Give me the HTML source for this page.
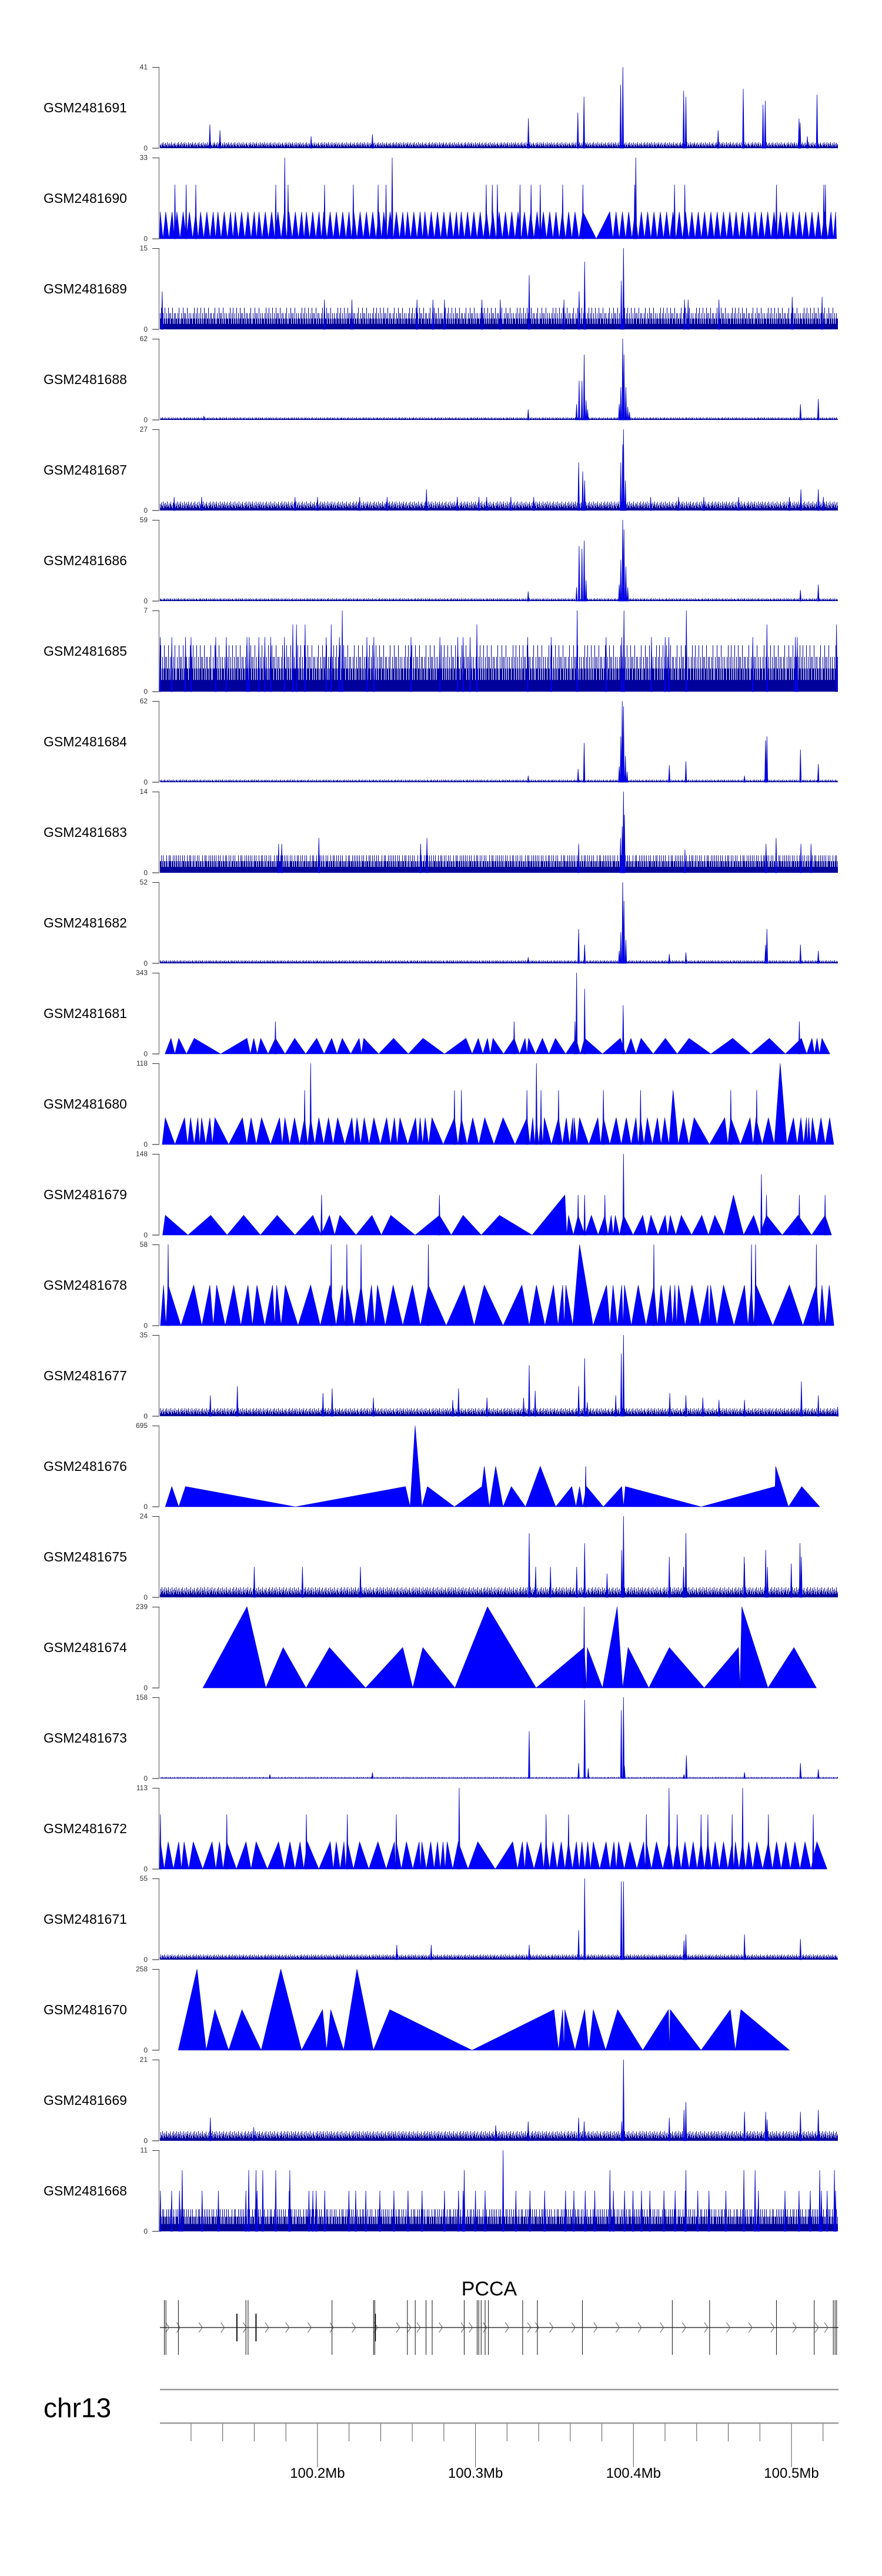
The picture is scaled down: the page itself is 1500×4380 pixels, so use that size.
<!DOCTYPE html>
<html><head><meta charset="utf-8"><title>GSM coverage tracks - PCCA chr13</title>
<style>
html,body{margin:0;padding:0;background:#fff;}
svg{display:block;font-family:"Liberation Sans",Arial,sans-serif;}
</style></head>
<body>
<svg id="chart" width="1500" height="4380" viewBox="0 0 1500 4380" xmlns="http://www.w3.org/2000/svg">
<rect x="0" y="0" width="1500" height="4380" fill="#fff"/>
<g id="tracks"></g>
<g id="gene"></g>
<g id="axis"></g>
</svg>
<script>
// ---------- data (positions in kb offset from chr13:100,100,000) ----------
const trackNames = ["GSM2481691","GSM2481690","GSM2481689","GSM2481688","GSM2481687","GSM2481686","GSM2481685","GSM2481684","GSM2481683","GSM2481682","GSM2481681","GSM2481680","GSM2481679","GSM2481678","GSM2481677","GSM2481676","GSM2481675","GSM2481674","GSM2481673","GSM2481672","GSM2481671","GSM2481670","GSM2481669","GSM2481668"];
const trackMax = [41,33,15,62,27,59,7,62,14,52,343,118,148,58,35,695,24,239,158,113,55,258,21,11];
const trackKind = ["noise","tri","noise","noise","noise","noise","noise","noise","noise","noise","tri","tri","tri","tri","noise","verts","noise","verts","noise","tri","noise","verts","noise","noise"];
const noiseLevel = [3,0,3.5,2,3,2,3.5,2,3,2,0,0,0,0,3.5,0,3,0,3,0,3.5,0,2.5,3];
const noiseFloor = [0.8,0,1,0.6,0.8,0.6,1,0.6,1,0.6,0,0,0,0,0.9,0,0.9,0,0.7,0,0.9,0,0.7,1];
const noisePattern = [0.35,0.8,0.5,1,0.2,0.65,0.9,0.4,0.7,1,0.3,0.55,0.85,0.25,0.6,1,0.45,0.75,0.15,0.9,0.5,0.7,1,0.35,0.6,0.8,0.3,0.95,0.5,0.65,0.2,0.85,0.55,1,0.4,0.7,0.3,0.9,0.6,0.45,1,0.25,0.75,0.5,0.85,0.35,0.65,1,0.4,0.55,0.8,0.3,0.7,0.95,0.45,0.6,0.2,0.85,0.5,1,0.65];

const spikes1691 = [[31.9,12],[38.3,9],[96,6],[134.8,7],[233.5,15],[264.8,18],[268.7,26],[291.9,32],[293.3,41],[331.8,29],[333.2,26],[353.6,9],[369.5,30],[382,22],[383.4,24],[404.8,15],[405.5,13],[410.1,6],[416.2,27]];
const spikes1689 = [[1.7,7],[234,10],[265.6,7],[269.1,12.5],[292.3,9],[293.7,15],[400.5,6],[419.4,6],[104.4,5.5],[121.8,5.5],[163,5.5],[173.1,5.5],[180.4,5.5],[204.1,5.5],[215.7,5.5],[256,5.5],[332.3,5.5],[334.6,5.5],[354.1,5.5]];
const spikes1688 = [[28.1,3],[233.4,8],[264,12],[265.6,30],[267.4,30],[268.8,50],[270,15],[271,8],[291,12],[292,25],[293.2,62],[294,50],[295.2,25],[296.4,10],[297.5,6],[405.7,12],[417,16]];
const spikes1687 = [[9.3,4.5],[169,7],[265.3,16],[267.9,13],[269.1,10],[292,16],[293.2,22],[293.7,27],[294.9,10],[406,7],[417,7],[26.7,4.5],[85.8,4.5],[100,4.5],[126.7,4.5],[144.1,4.5],[188.5,4.5],[202.2,4.5],[207.1,4.5],[222.4,4.5],[236.9,4.5],[310.9,4.5],[328.5,4.5],[344.5,4.5],[366.6,4.5],[398.7,4.5],[420.2,4.5]];
const spikes1686 = [[233.4,7],[264,10],[265.6,40],[267.4,38],[268.8,44],[270,15],[291,12],[292,30],[293.2,59],[294,52],[295.2,25],[296.4,10],[405.7,8],[417,12]];
const spikes1685 = [[115.7,7],[264.4,7],[294,7],[333.5,7],[84.4,5.8],[86.7,5.8],[92.2,5.8],[108.7,5.8],[200.9,5.8],[384.5,5.8],[428.5,5.8],[0.5,4.7],[7.8,4.7],[16.5,4.7],[20,4.7],[35.6,4.7],[42.3,4.7],[55.4,4.7],[56.8,4.7],[62.9,4.7],[66.7,4.7],[70.4,4.7],[79.1,4.7],[105.5,4.7],[113.9,4.7],[131.3,4.7],[135.7,4.7],[159.2,4.7],[177.5,4.7],[188.8,4.7],[192.2,4.7],[196.6,4.7],[233.1,4.7],[247.9,4.7],[282.7,4.7],[292.6,4.7],[311.4,4.7],[320.1,4.7],[322.4,4.7],[375.5,4.7],[402.5,4.7],[403.7,4.7]];
const spikes1684 = [[233.4,5],[265,10],[268.8,30],[291,12],[292,35],[292.9,62],[293.7,58],[294.9,20],[296,8],[322.7,13],[333.2,16],[370.3,5],[383.6,32],[384.5,35],[405.7,25],[417,14]];
const spikes1683 = [[291.8,6],[292.9,8],[293.7,14],[294.3,10],[75.4,5],[77.4,5],[100.9,6],[169.3,6],[165.3,5],[265.3,5],[332.6,4],[390.3,6],[383.9,5],[406,5],[412.4,5]];
const spikes1682 = [[233.4,4],[265.3,22],[269.1,12],[291,8],[292,20],[293.2,52],[294,40],[295.2,15],[322.7,6],[333.2,7],[383.6,12],[384.5,22],[405.7,12],[417,8]];
const spikes1677 = [[32.2,9],[49.3,13],[103.5,10],[109.3,12],[135.4,8],[185.6,7],[189.3,12],[207.3,8],[230.5,8],[234,22],[237.8,11],[265.3,13],[269.1,25],[270.8,6],[288.8,9],[292.3,27],[293.7,35],[323,10],[333.2,9],[343.9,8],[354.1,7],[370.3,7],[406.3,15],[417,9],[429.2,4]];
const spikes1675 = [[234,19],[269.1,16],[292.6,14],[293.7,24],[333.2,19],[322.7,12],[370.1,12],[383.7,14],[399.9,10],[405.4,16],[406.3,12],[60,9],[90.5,9],[127.2,9],[238.1,9],[247.5,9],[264.1,9],[283.3,7],[331.7,9],[370.3,10],[384.8,9]];
const spikes1673 = [[234,92],[265.3,30],[269.1,153],[271.4,20],[292.3,133],[293.7,158],[294.3,25],[333.5,45],[405.7,30],[417,18],[370.3,12],[134.8,12],[69.9,8],[332,8]];
const spikes1671 = [[265.3,20],[269.1,55],[292.3,53],[293.7,53],[333.2,17],[332,13],[370.3,17],[405.7,14],[150.2,10],[172,10],[234,10]];
const spikes1669 = [[32.2,6],[293.7,21],[292.6,5],[333.2,10],[332,8],[322.7,6],[370.3,7.5],[383.7,7.5],[384.6,5.5],[405.7,7.5],[417,8],[265.3,6],[268.8,5],[212.8,4],[233.4,5],[59.7,3.5]];
const spikes1668 = [[217.5,11],[14.4,8.3],[56.5,8.3],[61.1,8.3],[65.4,8.3],[73.6,8.3],[82.5,8.3],[192.9,8.3],[285.1,8.3],[333.2,8.3],[369.9,8.3],[377,8.3],[417.9,8.3],[427.2,8.3],[0.6,5.5],[7.7,5.5],[12.7,5.5],[27,5.5],[37.3,5.5],[54.7,5.5],[61.8,5.5],[82.1,5.5],[94.6,5.5],[97.1,5.5],[99.2,5.5],[104.6,5.5],[119.9,5.5],[124.2,5.5],[130.6,5.5],[139.5,5.5],[148.4,5.5],[157.3,5.5],[166.2,5.5],[180.4,5.5],[189.3,5.5],[192.2,5.5],[200,5.5],[206.1,5.5],[225.6,5.5],[234.5,5.5],[243.8,5.5],[257,5.5],[262.3,5.5],[269.5,5.5],[275.5,5.5],[287.3,5.5],[294.4,5.5],[299.7,5.5],[305.1,5.5],[310.4,5.5],[319.3,5.5],[326.4,5.5],[332.8,5.5],[340.7,5.5],[347.8,5.5],[358.5,5.5],[379.1,5.5],[395.9,5.5],[404.8,5.5],[411.9,5.5],[419,5.5],[422.6,5.5],[427.9,5.5]];

const apex1690 = [0.5,4,8,11,15,19,23,26,30,34,37,41,45,48,52,56,60,63,67,71,75,79,82,86,90,93,97,101,104,108,112,116,120,123,127,131,135,139,142,146,150,154,157,161,165,168,172,176,180,184,188,191,195,199,203,207,211,215,219,223,227,231,235,239,243,247,251,255,259,263,268,285,289,293,297,301,305,309,313,317,321,325,329,333,337,341,345,349,353,357,361,365,369,373,377,381,385,389,393,397,401,405,409,413,417,421,425,428];
const apexH1690 = 11;
const big1690 = [];
const spikes1690 = [[9.8,22],[16.9,22],[23,22],[73.6,22],[79.3,33],[81.4,22],[104.5,22],[122.7,22],[138.4,22],[143.4,22],[147.3,33],[206.8,22],[210.7,22],[213.9,22],[228.2,22],[235.2,22],[241,22],[255.2,22],[268,22],[300.8,22],[301.5,33],[326,22],[332.5,22],[390.5,22],[420.5,22],[421.5,22]];
const range1690 = [0,428.5];

const apex1681 = [7.3,12.2,22,55.4,59.7,64.1,73.4,85.6,99.5,109,115.7,126.4,129.3,148.2,166.8,194,201.8,207.6,211.1,224.5,231.4,233.7,242.4,250.6,263.6,269.1,291.7,298.4,304.8,320.2,335.2,362.8,386,406.3,413,416.2,419.3];
const apexH1681 = 66;
const big1681 = [];
const spikes1681 = [[73.4,137],[224.5,137],[263,137],[264,343],[269.1,275],[293.5,206],[405,137]];
const range1681 = [3.5,424.3];

const apex1680 = [3.7,15.9,19.7,24.3,26.7,31.9,35.1,52.5,58,64.6,76,79.4,85.5,91.9,95.7,100.9,107,112.8,121.8,125,129.6,135.7,143.8,148.7,152.2,162.1,165,168.2,172.5,186.7,191.1,198.3,205.9,217.5,232.6,236.3,238.6,241.5,243.6,252.6,257.5,261.6,262.4,265.9,277.5,281,289.1,295.5,301.6,304.5,308.8,315.2,319.8,325.1,331.7,338.4,357.8,361.6,373.8,377.6,385.4,392.9,401.3,406,409.5,410.9,413.2,418.7,424.2];
const apexH1680 = 39;
const big1680 = [[392.9,118],[325.1,79]];
const spikes1680 = [[91.9,79],[95.7,118],[186.7,79],[191.1,79],[232.6,79],[238.6,118],[241.5,79],[252.6,79],[281,79],[304.5,79],[361.6,79],[378,79]];
const range1680 = [1.7,426.8];

const apex1679 = [3.7,32.4,53.3,74.5,97.1,107.6,114.2,134.5,146.4,177.2,192.2,215.2,256.6,258.9,265,273.4,281.9,285.9,288.5,293.7,305.9,311.1,320.1,323.3,330.3,343.3,351.5,363.3,376.1,384.2,404.2,421.3];
const apexH1679 = 36;
const big1679 = [[256.6,73],[363.3,73]];
const spikes1679 = [[102.6,73],[177.2,73],[265,73],[269.1,73],[281.9,73],[293.7,148],[381,111],[384.2,73],[405,73],[421.3,73]];
const range1679 = [2,425.4];

const apex1678 = [2.6,5.5,21.7,31.9,36.2,47,56,61.7,71.6,74.2,79.7,95.7,107.9,115.7,118.6,127.6,134.2,138,147.9,160.1,170.2,192.8,205.6,229.4,238.6,249.4,255.2,257.2,265.9,283,287.1,292.6,294.3,303,312.9,317.5,323.3,326.2,328.5,337,347.1,348.8,357,370.3,374.7,377.6,398.7,415.8,419.3,423.9];
const apexH1678 = 29;
const big1678 = [[265.9,58]];
const spikes1678 = [[5.5,58],[108.7,58],[118.6,58],[127.6,58],[170.2,58],[312.9,58],[374.7,58],[377.3,58],[415.8,58]];
const range1678 = [0.6,426.9];

const apex1672 = [0.6,5.5,12.2,15.6,21.4,33.3,38,42.6,54.8,61.2,75.4,82.6,89,93.6,108.1,111.9,116.8,118.9,126.7,138.3,148.7,149.9,156.3,164.4,166.1,171.7,176,179.5,182.1,189.1,201.5,223.6,229.7,232.6,241.5,244.7,249.1,254.3,258.9,263.9,267.4,271.1,274.6,282.7,287.7,290.6,297.8,306.5,308.2,314.6,322.5,327.7,332.6,337.8,342.8,347.1,351.7,357,362.5,364.5,369.1,372.9,378.1,385.4,390.6,396.4,402.2,408.6,416.1];
const apexH1672 = 38;
const big1672 = [];
const spikes1672 = [[0.6,76],[42.6,76],[93,76],[118.9,76],[149.9,76],[189.7,113],[244.7,76],[258.9,76],[308.2,76],[322.5,113],[327.7,76],[342.8,76],[347.1,76],[362.5,76],[369.1,113],[385.4,76],[413.8,76]];
const range1672 = [0,422.5];

const verts1676 = [[3.7,0],[7.8,173],[12.2,0],[16.5,173],[86.1,0],[155.7,173],[158.6,0],[161.8,695],[166.1,0],[169.6,173],[186.7,0],[204.1,173],[205.6,347],[208.8,0],[212.8,347],[217.5,0],[222.7,173],[231.7,0],[241,347],[250.8,0],[261,173],[263.6,0],[265.9,173],[267.9,0],[270.3,173],[281,0],[292.6,173],[293.7,0],[294.9,173],[342.8,0],[389.7,173],[390,347],[398.1,0],[406.5,173],[417.9,0]];
const spikes1676 = [[269.8,347]];
const verts1674 = [[27.5,0],[55.4,239],[67.3,0],[78.3,119],[92.8,0],[107.6,119],[130.5,0],[154,119],[160.3,0],[166.7,119],[187,0],[207.6,239],[238.4,0],[268.8,119],[270.3,0],[270.8,119],[280.4,0],[289.7,239],[293.2,0],[296.6,119],[309.7,0],[322.7,119],[344.8,0],[366.5,119],[367.4,0],[368.6,239],[385.1,0],[401.6,119],[415.8,0]];
const spikes1674 = [[268.8,239]];
const verts1670 = [[11.9,0],[23.8,258],[29.6,0],[35.1,129],[43.8,0],[52.2,129],[64.4,0],[76.8,258],[89.9,0],[103.2,129],[105.8,0],[108.4,129],[116.6,0],[125,258],[135.4,0],[145.8,129],[197.8,0],[249.7,129],[252.6,0],[255.2,129],[256,0],[256.6,129],[263,0],[269.1,129],[271.7,0],[274.6,129],[282.4,0],[290,129],[305.9,0],[322.2,129],[322.7,0],[323.3,129],[342.8,0],[361.3,129],[364.5,0],[368,129],[398.7,0]];
const spikes1670 = [];

const exonKb = [3.1,4.1,12,54.7,56.1,109.2,135.5,136.3,156.9,161.9,168.7,172.6,192.9,201.1,202.1,203.6,206.1,208.2,229.9,239.2,267.7,324.6,348.2,390.5,414.4,426.5,427.6,428.6];
const shortExonKb = [49,61.1,136.6];
const chevronKb = [5,12,26,40,54,68,81,95,109,123,137,151,158,164,178,192,197,206,220,234,239,248,262,276,290,304,318,332,346,360,374,388,402,416,422];
const tickKb = [20,40,60,80,100,120,140,160,180,200,220,240,260,280,300,320,340,360,380,400,420];
const majorLabels = ["100.2Mb","100.3Mb","100.4Mb","100.5Mb"];
const majorKb = [100,200,300,400];

// ---------- layout ----------
const NS="http://www.w3.org/2000/svg";
const X0=272, X1=1424, PXKB=2.687;
const TOP0=114, PITCH=154, H=138;
function xk(kb){return X0+(kb-0.3)*PXKB;}
function el(tag,attrs,parent){const e=document.createElementNS(NS,tag);for(const k in attrs)e.setAttribute(k,attrs[k]);parent.appendChild(e);return e;}

const spikeMap={"GSM2481691":spikes1691,"GSM2481689":spikes1689,"GSM2481688":spikes1688,"GSM2481687":spikes1687,"GSM2481686":spikes1686,"GSM2481685":spikes1685,"GSM2481684":spikes1684,"GSM2481683":spikes1683,"GSM2481682":spikes1682,"GSM2481677":spikes1677,"GSM2481675":spikes1675,"GSM2481673":spikes1673,"GSM2481671":spikes1671,"GSM2481669":spikes1669,"GSM2481668":spikes1668,"GSM2481690":spikes1690,"GSM2481681":spikes1681,"GSM2481680":spikes1680,"GSM2481679":spikes1679,"GSM2481678":spikes1678,"GSM2481672":spikes1672,"GSM2481676":spikes1676,"GSM2481674":spikes1674,"GSM2481670":spikes1670};
const triMap={"GSM2481690":[apex1690,apexH1690,big1690,range1690],"GSM2481681":[apex1681,apexH1681,big1681,range1681],"GSM2481680":[apex1680,apexH1680,big1680,range1680],"GSM2481679":[apex1679,apexH1679,big1679,range1679],"GSM2481678":[apex1678,apexH1678,big1678,range1678],"GSM2481672":[apex1672,apexH1672,big1672,range1672]};
const vertMap={"GSM2481676":verts1676,"GSM2481674":verts1674,"GSM2481670":verts1670};

const tracksG=document.getElementById('tracks');
trackNames.forEach((name,i)=>{
  const top=TOP0+i*PITCH, bot=top+H, max=trackMax[i];
  const yv=v=>bot-(Math.min(v,max)/max)*H;
  const g=el('g',{},tracksG);
  
  
  const lab=el('text',{x:74,y:top+H/2+8,'font-size':23,fill:'#000'},g);
  lab.textContent=name;
  
  
  const ax=el('path',{d:`M270.5 ${top}V${bot}`,stroke:'#888','stroke-width':1.5,fill:'none'},g);
  
  
  el('path',{d:`M259 ${top+0.5}H271`,stroke:'#333','stroke-width':1},g);
  el('path',{d:`M259 ${bot}H271`,stroke:'#888','stroke-width':2},g);
  const tMax=el('text',{x:251,y:top+4,'font-size':12,'text-anchor':'end',fill:'#333'},g);
  tMax.textContent=String(max);
  
  
  const tZero=el('text',{x:251,y:bot+4,'font-size':12,'text-anchor':'end',fill:'#333'},g);
  tZero.textContent='0';
  
  
  const kind=trackKind[i];
  if(kind==='noise'){
    const lvl=noiseLevel[i], floor=noiseFloor[i];
    const base=el('rect',{x:X0,y:yv(floor).toFixed(1),width:X1-X0+1,height:(bot-yv(floor)).toFixed(1),fill:'#0000c8'},g);
    
    
    let d='';
    for(let px=X0;px<=X1;px++){
      let v=lvl*noisePattern[(px+i*17)%noisePattern.length];
      if(max<=15)v=Math.max(1,Math.round(v));
      d+=`M${px+0.5} ${bot}V${yv(v).toFixed(1)}`;
    }
    const p=el('path',{d:d,stroke:'#00009a','stroke-width':1,fill:'none'},g);
    
    
  } else if(kind==='tri'){
    const [apex,h,big,range]=triMap[name];
    const hmap={};big.forEach(b=>{hmap[b[0]]=b[1];});
    let pts=[[range[0],0]];
    apex.forEach((k,j)=>{
      if(j>0)pts.push([(apex[j-1]+k)/2,0]);
      pts.push([k,hmap[k]!==undefined?hmap[k]:h]);
    });
    pts.push([range[1],0]);
    const poly=el('polygon',{points:pts.map(p=>xk(p[0]).toFixed(1)+','+yv(p[1]).toFixed(1)).join(' '),fill:'#0000ff',stroke:'#0000c0','stroke-width':0.6},g);
    
    
  } else {
    const pts=vertMap[name];
    const poly=el('polygon',{points:pts.map(p=>xk(p[0]).toFixed(1)+','+yv(p[1]).toFixed(1)).join(' '),fill:'#0000ff',stroke:'#0000c0','stroke-width':0.6},g);
    
    
  }
  (spikeMap[name]||[]).forEach(s=>{
    const sp=el('polygon',{points:`${xk(s[0]-0.5).toFixed(1)},${bot} ${xk(s[0]).toFixed(1)},${yv(s[1]).toFixed(1)} ${xk(s[0]+0.5).toFixed(1)},${bot}`,fill:'#0000ff',stroke:'#0000c0','stroke-width':0.8},g);
    
    
  });
});

const geneG=document.getElementById('gene');
const gl=el('text',{x:832,y:3903,'font-size':34,'text-anchor':'middle',fill:'#000'},geneG);
gl.textContent='PCCA';


const bb=el('path',{d:`M${X0} 3957.5H${X1+2}`,stroke:'#333','stroke-width':1.5},geneG);


chevronKb.forEach(k=>{
  const x=xk(k);
  const c=el('path',{d:`M${x-3} 3949L${x+3} 3957.5L${x-3} 3966`,stroke:'#555','stroke-width':1,fill:'none'},geneG);
  
  
});
exonKb.forEach(k=>{
  const x=xk(k);
  const e=el('path',{d:`M${x.toFixed(1)} 3911V4004`,stroke:'#222','stroke-width':1.1},geneG);
  
  
});
shortExonKb.forEach(k=>{
  const x=xk(k);
  const e=el('path',{d:`M${x.toFixed(1)} 3934V3981`,stroke:'#111','stroke-width':2},geneG);
  
  
});

const axG=document.getElementById('axis');
const chr=el('text',{x:74,y:4110,'font-size':46,fill:'#000'},axG);
chr.textContent='chr13';


el('path',{d:`M${X0} 4063H${X1+2}`,stroke:'#999','stroke-width':2.5},axG);
el('path',{d:`M${X0} 4120H${X1+2}`,stroke:'#999','stroke-width':2.5},axG);
tickKb.forEach(k=>{
  const x=xk(k).toFixed(1);
  const major=majorKb.indexOf(k)>=0;
  const t=el('path',{d:`M${x} 4121V${major?4195:4151}`,stroke:'#555','stroke-width':1},axG);
  
  
});
majorKb.forEach((k,j)=>{
  const t=el('text',{x:xk(k),y:4213,'font-size':24,'text-anchor':'middle',fill:'#000'},axG);
  t.textContent=majorLabels[j];
  
  
});
</script>
</body></html>
